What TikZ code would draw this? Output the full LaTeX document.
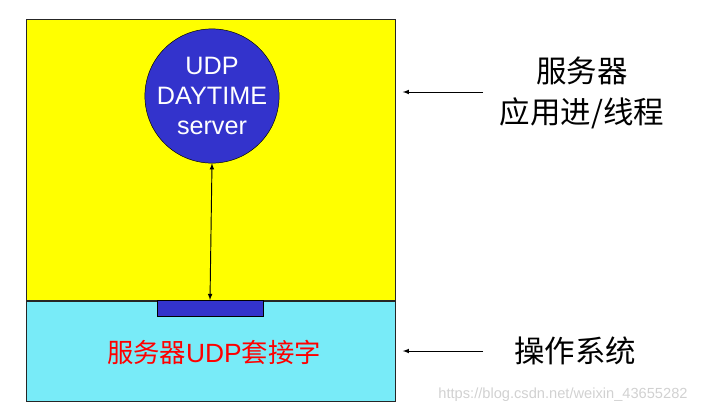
\documentclass[tikz,border=0pt]{standalone}
\usepackage{fontspec}
\setmainfont{Liberation Sans}
\newfontfamily\cjk{Noto Sans CJK SC}
\usepackage{xcolor}
\usetikzlibrary{positioning,arrows}

\definecolor{appyellow}{RGB}{255,255,0}
\definecolor{oscyan}{RGB}{120,235,248}
\definecolor{sockblue}{RGB}{51,51,204}

\begin{document}
\begin{tikzpicture}[
    x=0.03cm, y=-0.03cm,
    layer/.style={
      draw=black!85, line width=1pt, anchor=north west,
      minimum width=11.07cm, inner sep=0pt
    },
    proc/.style={
      draw=black, circle, fill=sockblue, text=white,
      minimum size=3.3cm, inner sep=0pt, align=center,
      font=\fontsize{21.5}{25.5}\selectfont
    },
    note/.style={font=\cjk\fontsize{26}{35}\selectfont, align=center},
    >=latex
]
  \useasboundingbox (0,0) rectangle (708,413);

  % Define the layers
  \node[layer, fill=appyellow, minimum height=8.43cm] (app) at (26,19) {};
  \node[layer, fill=oscyan, minimum height=3cm] (os) at (app.south west) {};

  % socket and server process
  \node[draw=black, fill=sockblue, minimum width=3.18cm, minimum height=0.48cm,
        inner sep=0pt, anchor=north] (sock) at (210,300) {};
  \node[proc] (srv) at (212,96) {UDP\\DAYTIME\\server};
  \node[text=red, font=\cjk\fontsize{22.5}{26}\selectfont] (socklbl) at (214,352)
    {服务器{\rmfamily UDP}套接字};

  \draw[<->, line width=0.8pt] (srv.south) -- (sock.north);

  % right hand labels
  \node[note] (applbl) at (582,93) {服务器\\应用进/线程};
  \node[note] (oslbl) at (575,351) {操作系统};

  \coordinate (apptail) at (483,92);
  \coordinate (ostail) at (483,351);
  \draw[->, line width=0.8pt, shorten >=0.2cm] (apptail) -- (apptail -| app.east);
  \draw[->, line width=0.8pt, shorten >=0.2cm] (ostail) -- (ostail -| os.east);

  % watermark
  \node[text=black!18, font=\fontsize{12.5}{14}\selectfont] (mark) at (563,395) {https://blog.csdn.net/weixin\_43655282};

\end{tikzpicture}
\end{document}
